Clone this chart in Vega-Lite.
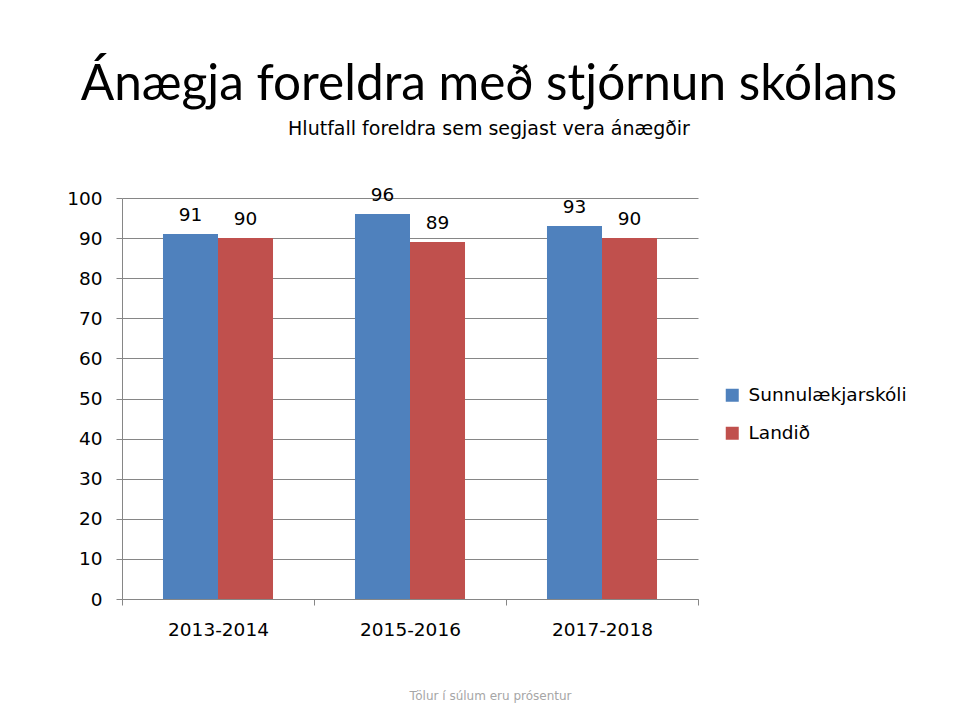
{
  "$schema": "https://vega.github.io/schema/vega-lite/v6.json",
  "width": 576,
  "height": 401,
  "autosize": {"type": "none"},
  "padding": {"left": 122, "top": 198, "right": 260, "bottom": 125},
  "background": "white",
  "title": {
    "text": "Ánægja foreldra með stjórnun skólans",
    "subtitle": "Hlutfall foreldra sem segjast vera ánægðir",
    "font": "Lato",
    "fontSize": 49.5,
    "fontWeight": "normal",
    "color": "#000000",
    "subtitleFont": "DejaVu Sans",
    "subtitleFontSize": 19,
    "subtitleColor": "#000000",
    "subtitlePadding": 10,
    "anchor": "middle",
    "dx": 79,
    "offset": 46
  },
  "data": {
    "values": [
      {"period": "2013-2014", "group": "Sunnulækjarskóli", "value": 91},
      {"period": "2013-2014", "group": "Landið", "value": 90},
      {"period": "2015-2016", "group": "Sunnulækjarskóli", "value": 96},
      {"period": "2015-2016", "group": "Landið", "value": 89},
      {"period": "2017-2018", "group": "Sunnulækjarskóli", "value": 93},
      {"period": "2017-2018", "group": "Landið", "value": 90}
    ]
  },
  "encoding": {
    "x": {
      "field": "period",
      "type": "nominal",
      "scale": {"paddingInner": 0, "paddingOuter": 0},
      "axis": {
        "labelAngle": 0,
        "labelFont": "DejaVu Sans",
        "labelFontSize": 18.5,
        "labelColor": "#000000",
        "labelPadding": 15,
        "tickBand": "extent",
        "tickSize": 6,
        "tickColor": "#868686",
        "domainColor": "#868686",
        "grid": false,
        "title": "Tölur í súlum eru prósentur",
        "titleFont": "DejaVu Sans",
        "titleFontSize": 12,
        "titleFontWeight": "normal",
        "titleColor": "#a6a6a6",
        "titlePadding": 52,
        "titleX": 368
      }
    },
    "xOffset": {
      "field": "group",
      "type": "nominal",
      "sort": ["Sunnulækjarskóli", "Landið"],
      "scale": {"paddingInner": 0, "paddingOuter": 0.745}
    },
    "y": {
      "field": "value",
      "type": "quantitative",
      "scale": {"domain": [0, 100]},
      "axis": {
        "values": [0, 10, 20, 30, 40, 50, 60, 70, 80, 90, 100],
        "labelFont": "DejaVu Sans",
        "labelFontSize": 18.5,
        "labelColor": "#000000",
        "labelPadding": 14,
        "tickSize": 6,
        "tickColor": "#868686",
        "domainColor": "#868686",
        "gridColor": "#868686",
        "title": null
      }
    }
  },
  "layer": [
    {
      "mark": {"type": "bar"},
      "encoding": {
        "color": {
          "field": "group",
          "type": "nominal",
          "sort": ["Sunnulækjarskóli", "Landið"],
          "scale": {"domain": ["Sunnulækjarskóli", "Landið"], "range": ["#4F81BD", "#C0504D"]},
          "legend": {
            "title": null,
            "orient": "none",
            "legendX": 601,
            "legendY": 188,
            "symbolType": "square",
            "symbolSize": 169,
            "symbolStrokeWidth": 0,
            "labelFont": "DejaVu Sans",
            "labelFontSize": 18.5,
            "labelColor": "#000000",
            "rowPadding": 19,
            "labelOffset": 7
          }
        }
      }
    },
    {
      "mark": {"type": "text", "baseline": "bottom", "dy": -9, "font": "DejaVu Sans", "fontSize": 18.5, "color": "#000000"},
      "encoding": {"text": {"field": "value", "type": "quantitative"}}
    }
  ],
  "config": {"view": {"stroke": null}}
}
